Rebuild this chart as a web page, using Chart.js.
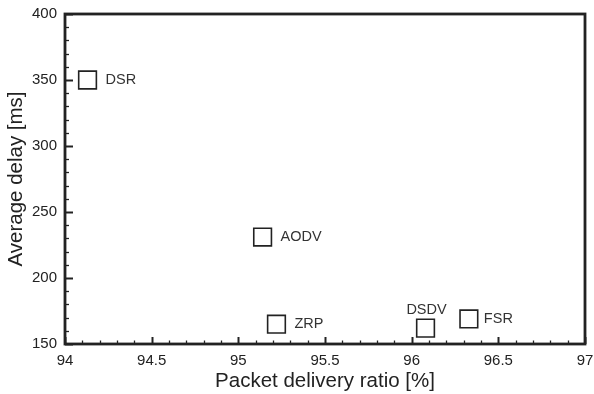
<!DOCTYPE html>
<html>
<head>
<meta charset="utf-8">
<script src="https://cdn.jsdelivr.net/npm/chart.js@4.4.1/dist/chart.umd.min.js"></script>
<style>
  html, body { margin: 0; padding: 0; background: #fff; }
  #wrap { width: 594px; height: 394px; position: relative; }
</style>
</head>
<body>
<div id="wrap"><canvas id="c" width="594" height="394"></canvas></div>
<script>
// ---- data ----
const protocols = ['DSR', 'AODV', 'ZRP', 'DSDV', 'FSR'];
const deliveryRatio = [94.13, 95.14, 95.22, 96.08, 96.33];
const averageDelay = [350, 231, 165, 162, 169];
const xTickLabels = ['94', '94.5', '95', '95.5', '96', '96.5', '97'];
const yTickLabels = ['150', '200', '250', '300', '350', '400'];

const FONT = '"Liberation Sans", Arial, Helvetica, sans-serif';
const INK = '#222';

const points = deliveryRatio.map((x, i) => ({ x: x, y: averageDelay[i] }));

// inward major/minor ticks, frame and point labels
const framePlugin = {
  id: 'frame',
  afterDatasetsDraw(chart) {
    const { ctx, chartArea: a, scales: { x, y } } = chart;
    ctx.save();
    ctx.strokeStyle = INK;
    for (let i = 0; i <= 30; i++) {
      const v = x.min + i * 0.1;
      const px = Math.round(x.getPixelForValue(v)) + 0.5;
      const major = i % 5 === 0;
      ctx.lineWidth = major ? 2 : 1.3;
      ctx.beginPath();
      ctx.moveTo(px, a.bottom);
      ctx.lineTo(px, a.bottom - (major ? 7 : 3.5));
      ctx.stroke();
    }
    for (let i = 0; i <= 25; i++) {
      const v = y.min + i * 10;
      const py = Math.round(y.getPixelForValue(v)) + 0.5;
      const major = i % 5 === 0;
      ctx.lineWidth = major ? 2 : 1.3;
      ctx.beginPath();
      ctx.moveTo(a.left, py);
      ctx.lineTo(a.left + (major ? 8 : 4), py);
      ctx.stroke();
    }
    ctx.lineWidth = 2.8;
    ctx.strokeRect(a.left, a.top, a.right - a.left, a.bottom - a.top);

    const meta = chart.getDatasetMeta(0);
    ctx.fillStyle = '#333';
    ctx.font = '14.5px ' + FONT;
    ctx.textBaseline = 'middle';
    meta.data.forEach((el, i) => {
      const name = protocols[i];
      if (name === 'DSDV') {
        ctx.textAlign = 'center';
        ctx.fillText(name, el.x + 1, el.y - 18);
      } else {
        ctx.textAlign = 'left';
        ctx.fillText(name, el.x + (name === 'FSR' ? 15 : 18), el.y);
      }
    });
    ctx.restore();
  }
};

new Chart(document.getElementById('c'), {
  type: 'scatter',
  data: {
    datasets: [{
      data: points,
      pointStyle: 'rect',
      radius: 12.5,
      hoverRadius: 12.5,
      borderWidth: 1.6,
      borderColor: INK,
      backgroundColor: 'rgba(255,255,255,0)'
    }]
  },
  options: {
    responsive: false,
    animation: false,
    events: [],
    layout: { autoPadding: false, padding: { top: 14, right: 9, left: 0, bottom: 0 } },
    plugins: { legend: { display: false }, tooltip: { enabled: false } },
    scales: {
      x: {
        type: 'linear',
        min: 94, max: 97,
        afterFit(s) { s.height = 50; s.paddingLeft = 0; s.paddingRight = 0; s.paddingTop = 0; s.paddingBottom = 0; },
        afterBuildTicks(s) { s.ticks = xTickLabels.map(t => ({ value: parseFloat(t) })); },
        ticks: {
          callback: (v, i) => xTickLabels[i],
          font: { family: FONT, size: 15 },
          color: INK,
          padding: 8,
          maxRotation: 0,
          autoSkip: false
        },
        grid: { display: false, drawTicks: false },
        border: { display: false },
        title: {
          display: true,
          text: 'Packet delivery ratio [%]',
          font: { family: FONT, size: 20.5 },
          color: INK,
          padding: { top: 0, bottom: 0 }
        }
      },
      y: {
        type: 'linear',
        min: 150, max: 400,
        afterFit(s) { s.width = 65; s.paddingLeft = 0; s.paddingRight = 0; s.paddingTop = 0; s.paddingBottom = 0; },
        afterBuildTicks(s) { s.ticks = yTickLabels.map(t => ({ value: parseFloat(t) })); },
        ticks: {
          callback: (v, i) => yTickLabels[i],
          font: { family: FONT, size: 15 },
          color: INK,
          padding: 8,
          autoSkip: false
        },
        grid: { display: false, drawTicks: false },
        border: { display: false },
        title: {
          display: true,
          text: 'Average delay [ms]',
          font: { family: FONT, size: 20.5 },
          color: INK,
          padding: { top: 4, bottom: 0 }
        }
      }
    }
  },
  plugins: [framePlugin]
});
</script>
</body>
</html>
